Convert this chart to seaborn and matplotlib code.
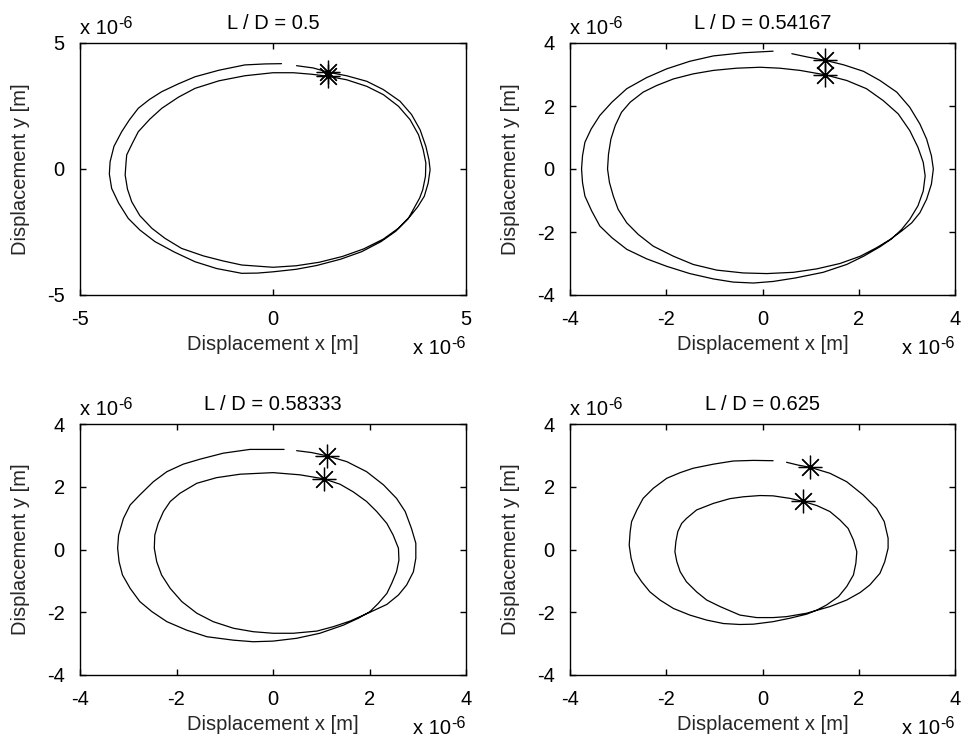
from __future__ import annotations

import matplotlib

matplotlib.use("Agg")

import matplotlib.pyplot as plt
import numpy as np
import seaborn as sns

# orbit paths in units of 1e-6 m, traced clockwise from the gap at the top
P1_X = [0.61, 1.04, 1.43, 1.91, 2.43, 2.86, 3.29, 3.59, 3.81, 3.96,
        4.04, 4.07, 4.02, 3.92, 3.75, 3.55, 3.25, 2.86, 2.35, 1.80,
        1.20, 0.60, 0.00, -0.81, -1.29, -1.80, -2.37, -2.80, -3.14, -3.45,
        -3.66, -3.77, -3.83, -3.81, -3.79, -3.65, -3.49, -3.19, -2.88, -2.45,
        -2.02, -1.40, -0.73, 0.00, 0.53, 1.00, 1.43, 1.91, 2.43, 2.86,
        3.25, 3.55, 3.77, 3.89, 3.96, 3.95, 3.88, 3.80, 3.50, 3.18,
        2.80, 2.30, 1.75, 1.13, 0.60, 0.00, -0.40, -0.81, -1.46, -2.02,
        -2.55, -3.06, -3.45, -3.75, -4.00, -4.18, -4.24, -4.22, -4.12, -3.92,
        -3.72, -3.49, -3.20, -2.88, -2.45, -2.02, -1.40, -0.73, -0.20, 0.22]
P1_Y = [4.10, 4.01, 3.84, 3.70, 3.48, 3.15, 2.69, 2.16, 1.56, 0.90,
        0.37, -0.03, -0.56, -1.08, -1.50, -1.88, -2.35, -2.78, -3.17, -3.47,
        -3.70, -3.84, -3.90, -3.81, -3.65, -3.45, -3.15, -2.75, -2.35, -1.85,
        -1.30, -0.80, -0.24, 0.20, 0.56, 1.00, 1.48, 1.98, 2.41, 2.85,
        3.20, 3.50, 3.70, 3.82, 3.82, 3.76, 3.68, 3.54, 3.28, 2.95,
        2.49, 1.96, 1.36, 0.77, 0.24, -0.29, -0.82, -1.15, -1.98, -2.47,
        -2.88, -3.28, -3.58, -3.83, -3.98, -4.08, -4.13, -4.14, -3.95, -3.68,
        -3.30, -2.88, -2.42, -1.96, -1.35, -0.77, -0.20, 0.29, 0.90, 1.48,
        1.95, 2.41, 2.76, 3.07, 3.38, 3.66, 3.92, 4.13, 4.17, 4.18]
P1_STAR_X = [1.43, 1.43]
P1_STAR_Y = [3.84, 3.68]

P2_X = [0.61, 0.95, 1.30, 1.68, 2.10, 2.44, 2.79, 3.06, 3.27, 3.41, 3.51, 3.55, 3.51, 3.41, 3.27, 3.10,
        2.89, 2.65, 2.37, 2.03, 1.61, 1.13, 0.64, 0.09, -0.40, -0.95, -1.44, -1.85, -2.27, -2.58, -2.82,
        -3.00, -3.10, -3.18, -3.22, -3.20, -3.15, -3.06, -2.93, -2.75, -2.48, -2.20, -1.85, -1.44, -1.02,
        -0.54, -0.05, 0.36, 0.78, 1.30, 1.75, 2.16, 2.51, 2.82, 3.06, 3.23, 3.34, 3.38, 3.34, 3.23, 3.06,
        2.89, 2.68, 2.44, 2.10, 1.75, 1.26, 0.68, 0.22, -0.19, -0.61, -1.02, -1.51, -1.99, -2.41, -2.82,
        -3.13, -3.38, -3.55, -3.69, -3.74, -3.76, -3.74, -3.69, -3.56, -3.38, -3.13, -2.82, -2.41, -1.99,
        -1.51, -1.02, -0.40, 0.22]
P2_Y = [3.66, 3.55, 3.45, 3.31, 3.10, 2.81, 2.44, 1.96, 1.43, 0.95, 0.42, 0.00, -0.48, -0.96, -1.39, -1.71,
        -1.97, -2.24, -2.50, -2.77, -3.00, -3.17, -3.28, -3.32, -3.30, -3.21, -3.03, -2.77, -2.45, -2.08, -1.71,
        -1.28, -0.86, -0.43, 0.00, 0.47, 0.95, 1.38, 1.80, 2.12, 2.44, 2.65, 2.86, 3.02, 3.13,
        3.20, 3.23, 3.20, 3.13, 2.99, 2.81, 2.55, 2.17, 1.75, 1.22, 0.69, 0.21, -0.22, -0.70, -1.17, -1.60,
        -1.92, -2.22, -2.47, -2.77, -3.03, -3.28, -3.46, -3.57, -3.62, -3.59, -3.49, -3.32, -3.09, -2.85, -2.55,
        -2.18, -1.81, -1.33, -0.86, -0.43, 0.00, 0.42, 0.85, 1.27, 1.70, 2.12, 2.55, 2.90, 3.18,
        3.42, 3.59, 3.69, 3.74]
P2_STAR_X = [1.30, 1.30]
P2_STAR_Y = [3.45, 2.99]

P3_X = [0.49, 0.80, 1.11, 1.53, 1.94, 2.29, 2.56, 2.74, 2.87, 2.96, 2.96, 2.91, 2.77, 2.60, 2.36, 2.01,
        1.60, 1.25, 0.91, 0.42, 0.00, -0.41, -0.82, -1.24, -1.58, -1.89, -2.13, -2.31, -2.41, -2.46, -2.45,
        -2.38, -2.27, -2.13, -1.93, -1.58, -1.17, -0.68, 0.00, 0.56, 1.06, 1.39, 1.66, 1.94, 2.15, 2.36,
        2.49, 2.60, 2.61, 2.56, 2.46, 2.36, 2.18, 2.01, 1.77, 1.46, 0.97, 0.49, 0.00, -0.41, -0.82, -1.37,
        -1.79, -2.20, -2.51, -2.76, -2.96, -3.12, -3.19, -3.22, -3.20, -3.10, -2.96, -2.76, -2.48, -2.20,
        -1.86, -1.51, -1.03, -0.48, 0.23]
P3_Y = [3.15, 3.09, 2.99, 2.80, 2.48, 2.06, 1.63, 1.21, 0.67, 0.20, -0.28, -0.71, -1.13, -1.45, -1.75, -2.00,
        -2.28, -2.46, -2.60, -2.67, -2.67, -2.62, -2.51, -2.30, -2.03, -1.66, -1.24, -0.81, -0.39, 0.04, 0.46,
        0.83, 1.21, 1.53, 1.79, 2.11, 2.29, 2.40, 2.45, 2.38, 2.25, 2.08, 1.84, 1.53, 1.21, 0.83,
        0.46, 0.04, -0.34, -0.71, -1.08, -1.40, -1.72, -1.98, -2.19, -2.41, -2.67, -2.83, -2.92, -2.94, -2.89, -2.78,
        -2.57, -2.30, -1.98, -1.66, -1.24, -0.81, -0.39, 0.04, 0.46, 0.99, 1.42, 1.74, 2.16, 2.48,
        2.72, 2.88, 3.07, 3.19, 3.19]
P3_STAR_X = [1.11, 1.06]
P3_STAR_Y = [2.99, 2.25]

P4_X = [0.50, 0.74, 0.99, 1.40, 1.75, 2.09, 2.37, 2.53, 2.61, 2.61, 2.54, 2.44, 2.23, 2.03, 1.75, 1.40,
        0.92, 0.50, 0.22, -0.12, -0.47, -0.88, -1.16, -1.37, -1.58, -1.71, -1.78, -1.82, -1.80, -1.76, -1.68,
        -1.58, -1.37, -1.02, -0.68, -0.40, -0.05, 0.22, 0.57, 0.85, 1.13, 1.40, 1.61, 1.78, 1.89, 1.96,
        1.94, 1.89, 1.75, 1.58, 1.33, 1.13, 0.92, 0.57, 0.22, -0.19, -0.47, -0.81, -1.16, -1.51, -1.85,
        -2.13, -2.34, -2.51, -2.65, -2.73, -2.77, -2.75, -2.72, -2.61, -2.48, -2.27, -1.99, -1.71, -1.44,
        -1.02, -0.61, -0.19, 0.22]
P4_Y = [2.78, 2.69, 2.62, 2.43, 2.16, 1.74, 1.31, 0.89, 0.36, 0.04, -0.39, -0.76, -1.13, -1.37, -1.61, -1.82,
        -2.03, -2.14, -2.17, -2.17, -2.09, -1.82, -1.61, -1.35, -1.03, -0.71, -0.39, -0.07, 0.25, 0.57, 0.83,
        0.99, 1.26, 1.47, 1.62, 1.68, 1.72, 1.71, 1.63, 1.53, 1.40, 1.21, 0.94, 0.67, 0.30, -0.07,
        -0.44, -0.81, -1.18, -1.50, -1.77, -1.93, -2.06, -2.19, -2.30, -2.38, -2.39, -2.36, -2.25, -2.09, -1.88,
        -1.61, -1.35, -1.03, -0.71, -0.28, 0.14, 0.57, 0.89, 1.26, 1.63, 1.95, 2.27, 2.45, 2.59,
        2.72, 2.82, 2.84, 2.83]
P4_STAR_X = [0.99, 0.85]
P4_STAR_Y = [2.62, 1.53]

TITLES = ["L / D = 0.5", "L / D = 0.54167", "L / D = 0.58333", "L / D = 0.625"]
LIMITS = [5, 4, 4, 4]
TICKS = [[-5, 0, 5], [-4, -2, 0, 2, 4], [-4, -2, 0, 2, 4], [-4, -2, 0, 2, 4]]

FONT = "Liberation Sans"
FS = 14.5


def set_theme() -> None:
    sns.set_theme(style="ticks")
    plt.rcParams.update(
        {
            "font.family": [FONT, "DejaVu Sans"],
            "axes.unicode_minus": False,
            "axes.linewidth": 1.0,
            "axes.edgecolor": "black",
            "xtick.direction": "in",
            "ytick.direction": "in",
            "xtick.top": True,
            "ytick.right": True,
            "xtick.color": "black",
            "ytick.color": "black",
            "text.color": "black",
        }
    )


def exponent_labels(ax) -> None:
    sup = FS * 0.8
    # top-left, above the y axis
    base = ax.text(0.0, 1.035, "x 10", transform=ax.transAxes, ha="left", va="baseline", fontsize=FS)
    ax.annotate("-6", xy=(1, 0), xycoords=base, xytext=(0.5, 0.52 * FS), textcoords="offset points",
                ha="left", va="baseline", fontsize=sup)
    # bottom-right, under the x axis
    tail = ax.text(1.0, -0.21, "-6", transform=ax.transAxes, ha="right", va="baseline", fontsize=sup)
    ax.annotate("x 10", xy=(0, 0), xycoords=tail, xytext=(-0.5, -0.14 * FS), textcoords="offset points",
                ha="right", va="baseline", fontsize=FS)


def draw_panel(ax, xs, ys, sx, sy, title, lim, ticks) -> None:
    sns.lineplot(x=xs, y=ys, sort=False, estimator=None, color="black", linewidth=0.9, ax=ax)
    ax.plot(sx, sy, linestyle="none", marker=(8, 2, 0), markersize=17,
            markeredgecolor="black", markeredgewidth=0.9, color="black")
    ax.set_xlim(-lim, lim)
    ax.set_ylim(-lim, lim)
    ax.set_xticks(ticks)
    ax.set_yticks(ticks)
    ax.tick_params(length=4, width=1, labelsize=FS, pad=11)
    for s in ax.spines.values():
        s.set_visible(True)
        s.set_linewidth(1.0)
    ax.set_title(title, fontsize=FS, pad=10)
    ax.set_xlabel("Displacement x [m]", fontsize=FS)
    ax.set_ylabel("Displacement y [m]", fontsize=FS)
    ax.xaxis.set_label_coords(0.5, -0.16)
    ax.yaxis.set_label_coords(-0.13, 0.5)
    exponent_labels(ax)


def main() -> None:
    set_theme()
    fig = plt.figure(figsize=(9.67, 7.44), dpi=100)
    boxes = [
        [80 / 967, 1 - 295 / 744, 386 / 967, 252 / 744],
        [570 / 967, 1 - 295 / 744, 385 / 967, 252 / 744],
        [80 / 967, 1 - 675 / 744, 386 / 967, 251 / 744],
        [570 / 967, 1 - 675 / 744, 385 / 967, 251 / 744],
    ]
    data = [
        (P1_X, P1_Y, P1_STAR_X, P1_STAR_Y),
        (P2_X, P2_Y, P2_STAR_X, P2_STAR_Y),
        (P3_X, P3_Y, P3_STAR_X, P3_STAR_Y),
        (P4_X, P4_Y, P4_STAR_X, P4_STAR_Y),
    ]
    for box, (xs, ys, sx, sy), title, lim, ticks in zip(boxes, data, TITLES, LIMITS, TICKS):
        ax = fig.add_axes(box)
        draw_panel(ax, np.array(xs), np.array(ys), sx, sy, title, lim, ticks)
    fig.savefig("out.png", dpi=100, facecolor="white")
    plt.close(fig)


if __name__ == "__main__":
    main()
